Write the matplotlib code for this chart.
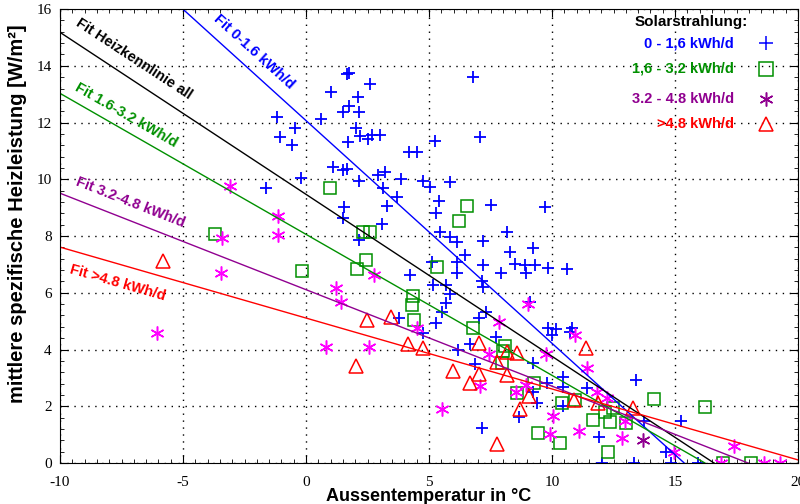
import matplotlib
matplotlib.use("Agg")
import matplotlib.pyplot as plt
from matplotlib.ticker import MultipleLocator
import numpy as np

plt.rcParams['font.family'] = ['Liberation Serif', 'DejaVu Serif']
plt.rcParams['axes.unicode_minus'] = False

# Messpunkte je Solarstrahlungsklasse (Aussentemperatur, Heizleistung)
t_0_16 = [-1.18, -0.45, -1.06, -0.57, -0.20, -1.63, 0.61, 1.67, 1.75, 2.60, 1.02, 2.11, 1.75, 1.50,
          2.15, 2.03, 2.20, 1.71, 2.68, 2.52, 3.01, 4.19, 4.51, 1.10, 1.50, 1.67, 2.15, 2.93, 3.21,
          3.86, 4.76, 5.04, 5.85, 3.13, 3.70, 5.41, 1.54, 3.29, 6.79, 5.24, 7.07, 7.52, 9.72, 1.50,
          3.09, 2.15, 4.23, 5.28, 5.45, 5.85, 6.14, 7.20, 8.17, 6.46, 8.29, 9.23, 6.14, 5.12, 7.20,
          8.50, 8.90, 9.31, 7.93, 8.94, 9.84, 10.61, 6.14, 7.15, 7.20, 5.16, 5.69, 5.85, 5.69, 5.53,
          5.28, 7.32, 7.03, 3.78, 4.76, 6.67, 7.72, 6.18, 6.87, 9.11, 9.84, 10.16, 10.0, 10.81, 10.73,
          9.23, 9.80, 10.45, 10.45, 11.42, 9.23, 9.39, 10.45, 8.66, 7.15, 11.91, 13.41, 13.74, 15.24,
          14.63, 12.03, 13.33, 14.84, 15.93]
q_0_16 = [12.18, 11.80, 11.48, 11.20, 10.04, 9.68, 12.11, 13.70, 13.73, 13.35, 13.06, 12.89, 12.57,
          12.36, 12.36, 11.80, 11.51, 11.30, 11.55, 11.41, 11.55, 10.95, 10.95, 10.42, 10.32, 10.35,
          9.93, 10.14, 10.25, 10.0, 9.93, 9.72, 9.89, 9.68, 9.37, 9.23, 9.01, 9.05, 13.59, 11.34,
          11.48, 9.08, 9.01, 8.63, 8.42, 7.85, 6.62, 8.80, 8.13, 7.96, 7.78, 7.82, 8.13, 7.32, 7.43,
          7.57, 7.08, 7.08, 6.97, 7.01, 6.97, 6.97, 6.69, 6.69, 6.87, 6.83, 6.69, 6.41, 6.20, 6.27,
          6.27, 5.95, 5.63, 5.32, 4.93, 5.32, 5.11, 5.11, 4.58, 4.19, 4.44, 3.98, 3.49, 5.67, 4.75,
          4.72, 4.51, 4.75, 4.61, 3.52, 2.82, 3.03, 2.68, 2.64, 2.50, 2.11, 2.01, 1.62, 1.23, 0.92,
          2.92, 1.48, 1.48, 0.39, 0.0, 0.0, 0.0, 0.0]

t_16_32 = [0.98, 6.54, 6.22, 2.32, 2.60, 2.44, 2.07, 5.33, -0.16, -3.70, 4.35, 4.31, 4.39, 6.79,
           8.09, 8.01, 7.97, 9.27, 8.58, 10.41, 10.93, 11.67, 12.36, 13.01, 12.15, 12.48, 9.43,
           10.33, 12.28, 14.15, 16.22, 16.95, 18.09]
q_16_32 = [9.68, 9.05, 8.52, 8.13, 8.13, 7.15, 6.83, 6.90, 6.76, 8.06, 5.88, 5.56, 5.04, 4.75,
           4.12, 3.94, 3.52, 2.82, 2.46, 2.11, 2.22, 1.51, 1.44, 1.41, 1.80, 1.94, 1.06,
           0.70, 0.39, 2.25, 1.97, 0.0, 0.0]

t_32_48 = [-3.09, -1.14, -1.14, -3.41, -3.46, -6.06, 1.22, 1.42, 0.81, 2.56, 2.76, 4.51, 7.85, 9.02,
           10.93, 9.76, 7.44, 11.42, 7.07, 8.94, 8.54, 5.53, 10.04, 9.92, 11.10, 11.83, 12.24,
           12.85, 12.97, 14.96, 17.40, 16.87, 18.62, 19.27]
q_32_48 = [9.75, 8.70, 8.03, 7.92, 6.69, 4.58, 6.16, 5.67, 4.08, 4.08, 6.62, 4.75, 4.96, 5.60,
           4.51, 3.84, 3.84, 3.35, 2.71, 2.75, 2.50, 1.90, 1.65, 1.02, 1.13, 2.50, 2.29,
           0.88, 1.48, 0.39, 0.60, 0.0, 0.0, 0.0]
t_32_48_b = [13.70]
q_32_48_b = [0.81]

t_48 = [-5.81, 2.48, 3.46, 4.15, 4.76, 2.03, 7.03, 8.17, 8.58, 7.76, 5.98, 7.03, 8.17, 6.67, 9.07,
        8.70, 10.89, 11.38, 7.76, 11.87, 13.29]
q_48 = [7.11, 5.04, 5.14, 4.19, 4.05, 3.42, 4.23, 3.91, 3.87, 3.56, 3.24, 3.13, 3.10, 2.82, 2.36,
        1.90, 2.22, 4.05, 0.67, 2.11, 1.94]

# Regressionsgeraden: Achsenabschnitt bei 0 °C und Steigung
fit_names = ["Fit 0-1.6 kWh/d", "Fit Heizkennlinie all", "Fit 1.6-3.2 kWh/d",
             "Fit 3.2-4.8 kWh/d", "Fit >4.8 kWh/d"]
fit_icept = [12.07, 9.47, 8.06, 6.11, 5.11]
fit_slope = [-0.785, -0.571, -0.497, -0.34, -0.25]
fit_colors = ["#0000ff", "black", "#009000", "#900090", "#ff0000"]
fit_label_xy = [(-2.1, 14.5), (-7.0, 14.25), (-7.3, 12.25), (-7.15, 9.2), (-7.64, 6.35)]
fit_label_rot = [-42.2, -33.3, -29.8, -21.4, -16.1]

legend_labels = ["0 - 1,6 kWh/d", "1,6 - 3.2 kWh/d", "3.2 - 4.8 kWh/d", ">4.8 kWh/d"]

fig = plt.figure(figsize=(8, 5.04), dpi=100)
ax = fig.add_axes([0.075, 0.0813, 0.9225, 0.9007])

star = (6, 2, 0)
ax.plot(t_0_16, q_0_16, ls="none", marker="+", ms=9, mew=1.3, color="#0000ff")
ax.plot(t_16_32, q_16_32, ls="none", marker="s", ms=9, mew=1.1, mfc="none", color="#009000")
ax.plot(t_32_48, q_32_48, ls="none", marker=star, ms=10, mew=1.1, color="#ff00ff")
ax.plot(t_32_48_b, q_32_48_b, ls="none", marker=star, ms=10, mew=1.1, color="#900090")
ax.plot(t_48, q_48, ls="none", marker="^", ms=10.5, mew=1.1, mfc="none", color="#ff0000")

for name, b, m, c, xy, rot in zip(fit_names, fit_icept, fit_slope, fit_colors,
                                  fit_label_xy, fit_label_rot):
    x0 = min(20, -b / m)
    xs = np.array([-10, x0])
    ax.plot(xs, b + m * xs, color=c, lw=1)
    ax.text(xy[0], xy[1], name, color=c, rotation=rot, ha="center", va="center",
            rotation_mode="anchor", fontsize=10.5, fontweight="bold",
            family=["Liberation Sans", "DejaVu Sans"])

ax.set_xlim(-10, 20)
ax.set_ylim(0, 16)
ax.xaxis.set_major_locator(MultipleLocator(5))
ax.xaxis.set_minor_locator(MultipleLocator(0.5))
ax.yaxis.set_major_locator(MultipleLocator(2))
ax.yaxis.set_minor_locator(MultipleLocator(0.4))
ax.tick_params(which="both", direction="in", top=True, right=True, labelsize=11)
ax.tick_params(which="major", length=6)
ax.tick_params(which="minor", length=3)
ax.tick_params(axis="x", which="major", pad=9)
ax.tick_params(axis="y", which="major", pad=6)
ax.grid(True, which="major", color="black", ls=(0, (1, 4)), lw=1)

ax.set_xlabel("Aussentemperatur in °C", fontsize=13, fontweight="bold",
              family=["Liberation Sans", "DejaVu Sans"])
ax.xaxis.set_label_coords(0.5, -0.056)
ax.set_ylabel("mittlere spezifische Heizleistung [W/m²]", fontsize=14.5,
              fontweight="bold", family=["Liberation Sans", "DejaVu Sans"])
ax.yaxis.set_label_coords(-0.045, 0.55)

# Legende von Hand, Text rechtsbuendig wie im Original
leg_font = dict(fontsize=10.5, fontweight="bold", family=["Liberation Sans", "DejaVu Sans"])
ax.text(0.855, 0.971, "Solarstrahlung:", transform=ax.transAxes, ha="center", va="center",
        color="black", fontsize=11, fontweight="bold", family=["Liberation Sans", "DejaVu Sans"])
leg_y = [0.925, 0.868, 0.802, 0.747]
leg_colors = ["#0000ff", "#009000", "#900090", "#ff0000"]
leg_markers = [("+", "#0000ff", "#0000ff"), ("s", "#009000", "none"),
               (star, "#900090", "#900090"), ("^", "#ff0000", "none")]
for lab, yy, c, (mk, mc, mf) in zip(legend_labels, leg_y, leg_colors, leg_markers):
    ax.text(0.913, yy, lab, transform=ax.transAxes, ha="right", va="center", color=c, **leg_font)
    ax.plot([0.957], [yy], transform=ax.transAxes, ls="none", marker=mk, ms=10, mew=1.1,
            color=mc, mfc=mf, clip_on=False)

fig.savefig("out.png", dpi=100)
